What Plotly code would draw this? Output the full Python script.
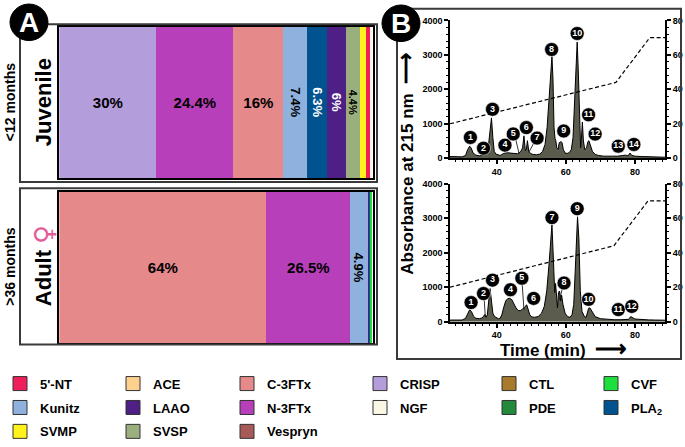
import plotly.graph_objects as go

W, H = 685, 447


def px(x):
    return x / W


def py(y):
    return 1 - y / H


FONT = "Arial, 'Liberation Sans', sans-serif"

# ---------------- data ----------------
categories = ["5'-NT", "ACE", "C-3FTx", "CRISP", "CTL", "CVF",
              "Kunitz", "LAAO", "N-3FTx", "NGF", "PDE", "PLA2",
              "SVMP", "SVSP", "Vespryn"]
legend_names = ["5'-NT", "ACE", "C-3FTx", "CRISP", "CTL", "CVF",
                "Kunitz", "LAAO", "N-3FTx", "NGF", "PDE", "PLA<sub>2</sub>",
                "SVMP", "SVSP", "Vespryn"]
category_colors = ["#EE1F5A", "#FDD08E", "#E5898B", "#B39DDB", "#A87A2C", "#1EE03C",
                   "#8EB1DD", "#4E1F84", "#B83FBA", "#FAF7E3", "#238A3C", "#00538F",
                   "#FFF21C", "#9BAF7E", "#A85A58"]

juvenile_order = ["CRISP", "N-3FTx", "C-3FTx", "Kunitz", "PLA2", "LAAO", "SVSP", "SVMP", "5'-NT", "NGF"]
juvenile_values = [31.0, 24.5, 16.1, 7.5, 6.4, 6.0, 4.5, 1.9, 1.5, 0.6]
juvenile_labels = ["30%", "24.4%", "16%", "7.4%", "6.3%", "6%", "4.4%", "", "", ""]

adult_order = ["C-3FTx", "N-3FTx", "Kunitz", "CRISP", "LAAO", "PLA2", "CVF"]
adult_values = [66.2, 26.6, 5.5, 0.6, 0.3, 0.3, 0.5]
adult_labels = ["64%", "26.5%", "4.9%", "", "", "", ""]

# chromatogram, juvenile (top)
top_time = [26.5, 28, 30, 31, 31.6, 32.2, 32.6, 33.2, 34, 35, 36, 36.5, 37, 37.6, 38.1, 38.5, 38.9,
            39.3, 39.8, 40.5, 41, 41.5, 42, 43, 44, 45, 46, 46.5, 47.0, 47.5, 47.9, 48.3, 48.6,
            48.9, 49.3, 49.8, 50.5, 51.5, 52.5, 53.3, 54, 54.6, 55.2, 55.6, 56.0, 56.3, 56.6, 56.9,
            57.1, 57.4, 57.8, 58.1, 58.5, 58.9, 59.3, 59.8, 60.4, 61.0, 61.6, 62.1, 62.6, 63.0, 63.3,
            63.6, 64.0, 64.3, 64.6, 64.8, 65.1, 65.5, 66.0, 66.4, 66.7, 67.1, 67.7, 68.5, 69.5, 71,
            73, 75, 76.5, 77.3, 78.0, 78.6, 79.0, 79.4, 80, 82, 84, 86, 88.8]
top_abs = [50, 45, 40, 80, 250, 350, 300, 150, 90, 70, 80, 90, 100, 350, 900, 1170, 600,
           200, 120, 90, 80, 110, 140, 160, 150, 130, 130, 160, 200, 300, 650, 220, 260,
           510, 200, 140, 110, 100, 120, 200, 400, 900, 1800, 2600, 2950, 2300, 900, 560,
           520, 300, 260, 450, 480, 460, 250, 150, 140, 160, 250, 600, 1600, 2800, 3370,
           2600, 900, 300, 700, 1050, 500, 250, 300, 480, 510, 380, 200, 110, 80, 60,
           55, 60, 80, 90, 70, 150, 90, 70, 60, 50, 45, 40, 30]

# chromatogram, adult (bottom)
bot_time = [26.5, 28, 30, 31, 31.6, 32.2, 32.7, 33.3, 34, 35, 35.8, 36.3, 36.6, 36.9, 37.3, 37.7,
            38.1, 38.5, 38.9, 39.4, 40, 40.5, 41, 41.5, 42, 42.6, 43.2, 43.8, 44.4, 45.0, 45.6,
            46.2, 46.8, 47.3, 47.7, 48.2, 48.7, 49.1, 49.6, 50.2, 51, 52, 53, 53.8, 54.5, 55.1,
            55.5, 56.0, 56.3, 56.6, 56.8, 57.05, 57.3, 57.6, 57.9, 58.2, 58.5, 58.8, 59.2, 59.8,
            60.5, 61.2, 61.8, 62.3, 62.7, 63.1, 63.4, 63.8, 64.2, 64.7, 65.4, 65.9, 66.3, 66.6,
            67.0, 67.6, 68.5, 70, 72, 74, 76, 77, 77.6, 78.1, 78.4, 78.8, 80, 82, 84, 86, 88.8]
bot_abs = [50, 45, 50, 100, 250, 350, 300, 160, 100, 90, 110, 160, 210, 130, 200, 600,
           960, 600, 250, 150, 110, 90, 100, 200, 400, 600, 670, 680, 640, 520, 400,
           330, 320, 350, 380, 440, 490, 380, 200, 140, 130, 150, 250, 450, 900, 1600,
           2300, 2810, 2100, 1000, 850, 1110, 600, 400, 850, 890, 600, 770, 500, 250,
           150, 130, 200, 500, 1400, 2500, 3040, 2400, 900, 300, 150, 130, 250, 390, 400,
           300, 150, 90, 70, 60, 60, 65, 80, 70, 100, 150, 80, 60, 55, 50, 45, 40]

# acetonitrile gradient (%B)
grad_top_time = [26.5, 74.5, 84.3, 88.8]
grad_top_b = [20, 44, 70, 70]
grad_bot_time = [26.5, 73.9, 83.8, 88.8]
grad_bot_b = [20, 44, 70, 70]

# peak labels
top_peak_time = [32.4, 36.2, 38.8, 42.4, 44.8, 48.6, 51.7, 55.9, 59.4, 63.3, 66.6, 68.5, 75.2, 79.7]
top_peak_abs = [603, 290, 1420, 380, 705, 890, 585, 3155, 790, 3620, 1260, 700, 350, 400]
top_peak_ids = ["1", "2", "3", "4", "5", "6", "7", "8", "9", "10", "11", "12", "13", "14"]
top_leader_time = [45.4, 46.5, None, 50.9, 49.3]
top_leader_abs = [600, 130, None, 470, 170]

bot_peak_time = [32.6, 36.2, 38.8, 44.0, 47.3, 50.7, 56.0, 59.5, 63.3, 66.6, 75.2, 79.1]
bot_peak_abs = [557, 817, 1206, 928, 1262, 677, 3016, 1123, 3276, 650, 353, 445]
bot_peak_ids = ["1", "2", "3", "4", "5", "6", "7", "8", "9", "10", "11", "12"]
bot_leader_time = [36.4, 36.7, None, 47.4, 47.9, None, 59.0, 58.2]
bot_leader_abs = [640, 160, None, 1080, 350, None, 960, 640]

x_ticks = [40, 60, 80]
abs_ticks = [0, 1000, 2000, 3000, 4000]
pct_ticks = [0, 20, 40, 60, 80]

# ---------------- figure ----------------
color_of = dict(zip(categories, category_colors))
white_text = {"PLA2", "LAAO"}

fig = go.Figure()


def add_stack(order, values, labels, xa, ya, row):
    for cat, val, lab in zip(order, values, labels):
        vertical = val < 10
        size = 15 if not vertical else (11 if val < 5 else 13)
        extra = {}
        if lab:
            extra = dict(text=[lab], textposition="inside", insidetextanchor="middle",
                         textangle=90 if vertical else 0, constraintext="none",
                         textfont=dict(family=FONT, size=size, weight="bold",
                                       color="white" if cat in white_text else "black"))
        fig.add_trace(go.Bar(
            x=[val], y=[row], orientation="h", xaxis=xa, yaxis=ya,
            width=1, marker=dict(color=color_of[cat], line=dict(width=0)),
            showlegend=False, hoverinfo="skip", **extra))


add_stack(juvenile_order, juvenile_values, juvenile_labels, "x", "y", "Juvenile")
add_stack(adult_order, adult_values, adult_labels, "x2", "y2", "Adult")


def add_chrom(t, a, gt, gb, pt, pa, pid, lt, la, xa, ya, ya2):
    fig.add_trace(go.Scatter(x=t, y=a, xaxis=xa, yaxis=ya, mode="lines",
                             line=dict(color="black", width=1), fill="tozeroy",
                             fillcolor="#5b5c4d", showlegend=False, hoverinfo="skip"))
    fig.add_trace(go.Scatter(x=gt, y=gb, xaxis=xa, yaxis=ya2, mode="lines",
                             line=dict(color="black", width=1.2, dash="4px,2.5px"),
                             showlegend=False, hoverinfo="skip"))
    fig.add_trace(go.Scatter(x=lt, y=la, xaxis=xa, yaxis=ya, mode="lines",
                             line=dict(color="black", width=0.8),
                             showlegend=False, hoverinfo="skip"))
    fig.add_trace(go.Scatter(x=pt, y=pa, xaxis=xa, yaxis=ya, mode="markers+text",
                             marker=dict(color="black", size=14, line=dict(color="white", width=0.6)),
                             text=pid, textposition="middle center",
                             textfont=dict(family=FONT, size=9, color="white", weight="bold"),
                             showlegend=False, hoverinfo="skip", cliponaxis=False))


add_chrom(top_time, top_abs, grad_top_time, grad_top_b, top_peak_time, top_peak_abs,
          top_peak_ids, top_leader_time, top_leader_abs, "x3", "y3", "y4")
add_chrom(bot_time, bot_abs, grad_bot_time, grad_bot_b, bot_peak_time, bot_peak_abs,
          bot_peak_ids, bot_leader_time, bot_leader_abs, "x4", "y5", "y6")

# legend: one legend per column
n_cols = 6
col_centers_px = [20, 133, 247, 380, 509, 611]
legend_top_px = 378
for i, (name, col) in enumerate(zip(legend_names, category_colors)):
    c = i % n_cols
    lg = "legend" if c == 0 else f"legend{c + 1}"
    fig.add_trace(go.Scatter(x=[None], y=[None], xaxis="x", yaxis="y", mode="markers",
                             name=name, legend=lg, legendgroup=name,
                             marker=dict(symbol="square", size=14, color=col,
                                         line=dict(color="#333333", width=1)),
                             showlegend=True, hoverinfo="skip"))

layout_legends = {}
for c in range(n_cols):
    key = "legend" if c == 0 else f"legend{c + 1}"
    layout_legends[key] = dict(
        x=px(col_centers_px[c] - 20), y=py(legend_top_px), xanchor="left", yanchor="top",
        orientation="v", tracegroupgap=4, bgcolor="rgba(0,0,0,0)", borderwidth=0,
        font=dict(family=FONT, size=13, color="black", weight="bold"), itemclick=False)

axis_hidden = dict(showgrid=False, zeroline=False, showticklabels=False, ticks="",
                   showline=True, mirror=True, linecolor="black", linewidth=1.5)

chrom_x = dict(range=[26.5, 88.8], tickvals=x_ticks, showgrid=False, zeroline=False,
               showline=True, linecolor="black", linewidth=1.5, ticks="outside",
               ticklen=4, tickwidth=1.5, tickcolor="black",
               tickfont=dict(family=FONT, size=9, color="black", weight="bold"),
               minor=dict(dtick=2, tick0=0, ticklen=2, tickwidth=1, ticks="outside", tickcolor="black"))
chrom_y = dict(range=[0, 4000], tickvals=abs_ticks, showgrid=False, zeroline=False,
               showline=True, linecolor="black", linewidth=1.5, ticks="outside",
               ticklen=4, tickwidth=1.5, tickcolor="black",
               tickfont=dict(family=FONT, size=9, color="black", weight="bold"),
               minor=dict(dtick=200, tick0=0, ticklen=2, tickwidth=1, ticks="outside", tickcolor="black"))
chrom_y2 = dict(range=[0, 80], tickvals=pct_ticks, showgrid=False, zeroline=False,
                showline=True, linecolor="black", linewidth=1.5, ticks="outside",
                ticklen=4, tickwidth=1.5, tickcolor="black", side="right",
                tickfont=dict(family=FONT, size=9, color="black", weight="bold"),
                minor=dict(dtick=4, tick0=0, ticklen=2, tickwidth=1, ticks="outside", tickcolor="black"))

bar_xdom = [px(59.3), px(372.7)]
top_dom = [py(159.3), py(16)]
bot_dom = [py(329.3), py(185.7)]
chrom_xdom = [px(450), px(665.3)]

shapes = [
    dict(type="rect", xref="paper", yref="paper", x0=px(20), x1=px(377), y0=py(184), y1=py(20),
         line=dict(color="#3a3a3a", width=2)),
    dict(type="rect", xref="paper", yref="paper", x0=px(20), x1=px(377), y0=py(353), y1=py(190.5),
         line=dict(color="#3a3a3a", width=2)),
    dict(type="rect", xref="paper", yref="paper", x0=px(397), x1=px(681), y0=py(368), y1=py(4),
         line=dict(color="#3a3a3a", width=2)),
    dict(type="circle", xref="paper", yref="paper", x0=px(10), x1=px(48), y0=py(37), y1=py(-1),
         fillcolor="black", line=dict(color="black", width=1)),
    dict(type="circle", xref="paper", yref="paper", x0=px(382), x1=px(420), y0=py(38), y1=py(0),
         fillcolor="black", line=dict(color="black", width=1)),
]


def ann(text, x, y, size, angle=0, color="black", weight="bold", family=FONT):
    return dict(text=text, x=px(x), y=py(y), xref="paper", yref="paper", showarrow=False,
                textangle=angle, xanchor="center", yanchor="middle",
                font=dict(family=family, size=size, color=color, weight=weight))


annotations = [
    ann("A", 29, 18, 28, color="white"),
    ann("B", 401, 19, 28, color="white"),
    ann("&lt;12 months", 10, 101, 14, -90),
    ann("Juvenile", 43, 101, 22, -90),
    ann("&gt;36 months", 10, 272, 14, -90),
    ann("Adult", 43, 284, 22, -90),
    ann("♀", 44, 239, 26, -90, color="#e35d9b", weight="normal", family="DejaVu Sans"),
    ann("Absorbance at 215 nm  <span style='font-size:22px'>⟶</span>", 406, 165, 17, -90),
    ann("Time (min)  <span style='font-size:22px'>⟶</span>", 563, 357, 17),
]

fig.update_layout(
    width=W, height=H, margin=dict(l=0, r=0, t=0, b=0),
    paper_bgcolor="white", plot_bgcolor="white",
    barmode="stack", bargap=0,
    font=dict(family=FONT, color="black"),
    xaxis=dict(domain=bar_xdom, range=[0, 100], anchor="y", **axis_hidden),
    yaxis=dict(domain=[py(180), py(22.7)], anchor="x", type="category", range=[-0.5, 0.5], **axis_hidden),
    xaxis2=dict(domain=bar_xdom, range=[0, 100], anchor="y2", **axis_hidden),
    yaxis2=dict(domain=[py(351.7), py(194)], anchor="x2", type="category", range=[-0.5, 0.5], **axis_hidden),
    xaxis3=dict(domain=chrom_xdom, anchor="y3", **chrom_x),
    yaxis3=dict(domain=top_dom, anchor="x3", **chrom_y),
    yaxis4=dict(overlaying="y3", anchor="x3", **chrom_y2),
    xaxis4=dict(domain=chrom_xdom, anchor="y5", **chrom_x),
    yaxis5=dict(domain=bot_dom, anchor="x4", **chrom_y),
    yaxis6=dict(overlaying="y5", anchor="x4", **chrom_y2),
    shapes=shapes, annotations=annotations,
    **layout_legends,
)

fig.write_html("out.html", config={"displayModeBar": False},
               post_script="document.body.style.margin='0px';")
